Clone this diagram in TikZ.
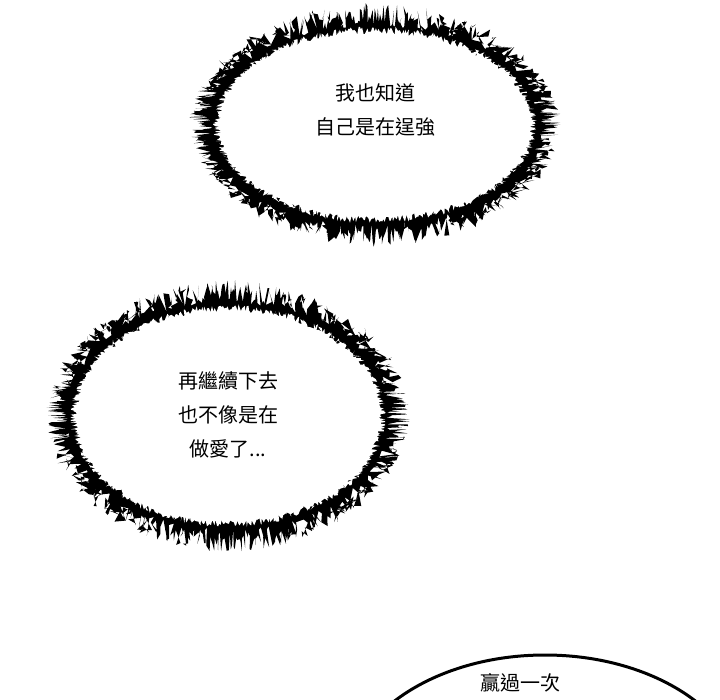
\documentclass[tikz,border=0pt]{standalone}
\usepackage{fontspec}
\newfontfamily\cjk{Noto Sans CJK TC}
\begin{document}
\begin{tikzpicture}[x=1pt,y=-1pt]
\pgfmathsetseed{7}
\useasboundingbox (0,0) rectangle (720,700);
\fill[white] (0,0) rectangle (720,700);
\tikzset{txt/.style={font=\cjk\fontsize{20}{34}\selectfont,align=center}}
% bubble 1
\fill[black] plot[domain=0:360,samples=1000] ({375+(174+12*rand)*cos(\x)},{125+(110+12*rand)*sin(\x)}) -- cycle;
\fill[white] plot[domain=0:360,samples=800] ({375+(158+4*rand)*cos(\x)},{125+(95+4*rand)*sin(\x)}) -- cycle;
% bubble 2
\fill[black] plot[domain=0:360,samples=1000] ({228+(170+12*rand)*cos(\x)},{416+(124+12*rand)*sin(\x)}) -- cycle;
\fill[white] plot[domain=0:360,samples=800] ({228+(154+4*rand)*cos(\x)},{416+(108+4*rand)*sin(\x)}) -- cycle;
% bottom bubble
\draw[line width=3pt,fill=white] (545,790) ellipse (200 and 135);
\node[txt] (t1) at (375,110) {我也知道\\自己是在逞強};
\node[txt] (t2) at (228,415) {再繼續下去\\也不像是在\\做愛了...};
\node[txt] (t3) at (520,683) {贏過一次};
\end{tikzpicture}
\end{document}
